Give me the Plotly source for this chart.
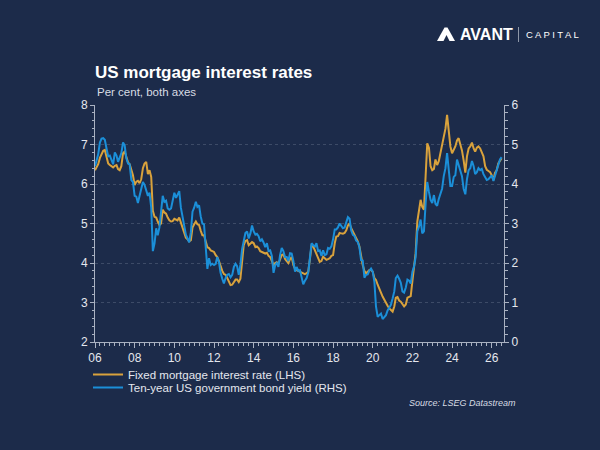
import pandas as pd
import plotly.graph_objects as go

# ---------------- data (monthly, Jan 2006 - Jul 2026) ----------------
start_month = "2006-01-01"

mortgage_rate = [
    # 2006
    6.35, 6.42, 6.50, 6.66, 6.76, 6.84, 6.86, 6.66, 6.52, 6.48, 6.44, 6.42,
    # 2007
    6.46, 6.48, 6.38, 6.35, 6.45, 6.78, 6.82, 6.70, 6.55, 6.50, 6.35, 6.22,
    # 2008
    5.97, 6.06, 6.08, 6.02, 6.12, 6.40, 6.52, 6.56, 6.25, 6.35, 6.18, 5.32,
    # 2009
    5.17, 5.15, 5.05, 4.96, 5.00, 5.35, 5.28, 5.25, 5.15, 5.08, 5.05, 5.06,
    # 2010
    5.12, 5.10, 5.08, 5.15, 5.02, 4.92, 4.76, 4.64, 4.60, 4.55, 4.58, 4.90,
    # 2011
    4.98, 5.05, 4.98, 4.96, 4.82, 4.70, 4.70, 4.52, 4.40, 4.38, 4.32, 4.30,
    # 2012
    4.28, 4.20, 4.15, 4.05, 3.92, 3.80, 3.72, 3.70, 3.62, 3.52, 3.44, 3.45,
    # 2013
    3.52, 3.58, 3.58, 3.52, 3.60, 4.15, 4.45, 4.56, 4.58, 4.45, 4.48, 4.53,
    # 2014
    4.50, 4.40, 4.42, 4.38, 4.30, 4.28, 4.26, 4.24, 4.26, 4.18, 4.15, 4.05,
    # 2015
    3.95, 4.00, 4.02, 3.98, 4.10, 4.20, 4.22, 4.10, 4.05, 4.00, 4.10, 4.15,
    # 2016
    3.95, 3.85, 3.82, 3.80, 3.80, 3.78, 3.74, 3.72, 3.74, 3.78, 4.10, 4.44,
    # 2017
    4.42, 4.32, 4.22, 4.12, 4.03, 4.05, 4.16, 4.12, 4.08, 4.10, 4.12, 4.18,
    # 2018
    4.20, 4.50, 4.67, 4.68, 4.76, 4.75, 4.74, 4.76, 4.83, 4.95, 5.00, 4.88,
    # 2019
    4.80, 4.72, 4.66, 4.55, 4.42, 4.15, 3.95, 3.80, 3.74, 3.78, 3.82, 3.82,
    # 2020
    3.78, 3.62, 3.57, 3.45, 3.33, 3.25, 3.15, 3.06, 3.00, 2.92, 2.85, 2.80,
    # 2021
    2.77, 2.90, 3.12, 3.14, 3.05, 3.02, 2.95, 2.90, 2.95, 3.12, 3.14, 3.16,
    # 2022
    3.55, 3.85, 4.25, 5.05, 5.28, 5.60, 5.42, 5.35, 6.20, 7.03, 6.92, 6.45,
    # 2023
    6.35, 6.38, 6.62, 6.48, 6.58, 6.78, 7.05, 7.25, 7.40, 7.75, 7.40, 6.95,
    # 2024
    6.78, 6.88, 6.95, 7.10, 7.16, 7.00, 6.85, 6.60, 6.29, 6.70, 6.90, 6.95,
    # 2025
    7.05, 6.90, 6.82, 6.92, 6.95, 6.90, 6.80, 6.70, 6.45, 6.36, 6.33, 6.30,
    # 2026
    6.22, 6.10, 6.28, 6.35, 6.52, 6.60, 6.65,
]

bond_yield = [
    # 2006
    4.45, 4.58, 4.75, 5.05, 5.15, 5.16, 5.12, 4.90, 4.70, 4.72, 4.58, 4.50,
    # 2007
    4.80, 4.72, 4.56, 4.68, 4.78, 5.05, 4.98, 4.65, 4.52, 4.50, 4.10, 4.05,
    # 2008
    3.70, 3.68, 3.52, 3.70, 3.90, 4.05, 3.98, 3.85, 3.70, 3.78, 3.40, 2.30,
    # 2009
    2.50, 2.88, 2.70, 2.90, 3.30, 3.70, 3.55, 3.58, 3.38, 3.35, 3.38, 3.60,
    # 2010
    3.78, 3.65, 3.75, 3.82, 3.40, 3.18, 3.00, 2.72, 2.62, 2.52, 2.78, 3.30,
    # 2011
    3.40, 3.55, 3.42, 3.46, 3.18, 3.00, 2.98, 2.28, 1.85, 2.12, 1.95, 1.98,
    # 2012
    1.95, 1.98, 2.15, 2.02, 1.75, 1.60, 1.48, 1.62, 1.70, 1.72, 1.64, 1.70,
    # 2013
    1.90, 1.98, 1.92, 1.70, 1.95, 2.35, 2.60, 2.76, 2.80, 2.62, 2.75, 2.95,
    # 2014
    2.80, 2.72, 2.74, 2.68, 2.55, 2.60, 2.52, 2.40, 2.50, 2.30, 2.32, 2.18,
    # 2015
    1.75, 1.95, 2.00, 1.90, 2.20, 2.38, 2.30, 2.15, 2.15, 2.05, 2.25, 2.24,
    # 2016
    2.05, 1.78, 1.90, 1.80, 1.82, 1.62, 1.46, 1.55, 1.62, 1.76, 2.15, 2.50,
    # 2017
    2.45, 2.42, 2.50, 2.30, 2.32, 2.18, 2.32, 2.20, 2.22, 2.38, 2.36, 2.42,
    # 2018
    2.60, 2.85, 2.85, 2.90, 3.00, 2.92, 2.88, 2.90, 3.02, 3.16, 3.12, 2.82,
    # 2019
    2.71, 2.68, 2.57, 2.53, 2.40, 2.07, 2.06, 1.63, 1.70, 1.71, 1.81, 1.86,
    # 2020
    1.78, 1.52, 0.90, 0.64, 0.68, 0.72, 0.58, 0.62, 0.68, 0.80, 0.88, 0.94,
    # 2021
    1.10, 1.28, 1.62, 1.68, 1.60, 1.50, 1.28, 1.25, 1.38, 1.58, 1.55, 1.48,
    # 2022
    1.78, 1.92, 2.15, 2.80, 2.92, 3.10, 2.75, 2.80, 3.50, 4.05, 3.80, 3.60,
    # 2023
    3.52, 3.72, 3.50, 3.45, 3.62, 3.75, 3.88, 4.20, 4.40, 4.78, 4.40, 3.95,
    # 2024
    3.95, 4.18, 4.22, 4.62, 4.48, 4.30, 4.20, 3.88, 3.74, 4.12, 4.35, 4.40,
    # 2025
    4.58, 4.45, 4.25, 4.30, 4.40, 4.35, 4.38, 4.25, 4.15, 4.10, 4.12, 4.16,
    # 2026
    4.22, 4.08, 4.20, 4.30, 4.48, 4.62, 4.68,
]

series_names = [
    "Fixed mortgage interest rate (LHS)",
    "Ten-year US government bond yield (RHS)",
]
left_range = [2, 8]
right_range = [0, 6]
x_range = ["2006-01-01", "2026-08-14"]

title_text = "US mortgage interest rates"
subtitle_text = "Per cent, both axes"
source_text = "Source: LSEG Datastream"

# ---------------- styling ----------------
BG = "#1c2b4a"
GOLD = "#d9a23c"
BLUE = "#1b8fd8"
AXIS = "#aab2c2"
TXT = "#e4e7ee"
FONT = "Liberation Sans, Arial, sans-serif"

W, H = 600, 450
ML, MR, MT, MB = 95, 96, 105, 108
PW, PH = W - ML - MR, H - MT - MB


def px(x):
    return (x - ML) / PW


def py(y):
    return (H - MB - y) / PH


dates = pd.date_range(start_month, periods=len(mortgage_rate), freq="MS")

fig = go.Figure()
fig.add_trace(go.Scatter(x=dates, y=mortgage_rate, name=series_names[0],
                         mode="lines", line=dict(color=GOLD, width=2),
                         yaxis="y", legend="legend"))
fig.add_trace(go.Scatter(x=dates, y=bond_yield, name=series_names[1],
                         mode="lines", line=dict(color=BLUE, width=2),
                         yaxis="y2", legend="legend2"))

axis_common = dict(showline=True, linecolor=AXIS, linewidth=1,
                   ticks="outside", tickcolor=AXIS, tickwidth=1,
                   tickfont=dict(family=FONT, size=12, color=TXT),
                   zeroline=False)

fig.update_layout(
    width=W, height=H,
    margin=dict(l=ML, r=MR, t=MT, b=MB),
    paper_bgcolor=BG, plot_bgcolor=BG,
    font=dict(family=FONT, color=TXT),
    title=dict(text="<b>" + title_text + "</b>", xref="container", yref="container",
               x=ML / W, xanchor="left", y=1 - 72 / H, yanchor="middle",
               font=dict(family=FONT, size=17, color="#ffffff")),
    xaxis=dict(type="date", range=x_range, tick0="2006-01-01", dtick="M24",
               tickformat="%y", ticklen=5, showgrid=False,
               minor=dict(dtick="M3", ticks="outside", ticklen=3,
                          tickcolor=AXIS, showgrid=False),
               **axis_common),
    yaxis=dict(range=left_range, dtick=1, ticklen=4,
               showgrid=True, gridcolor="rgba(160,170,190,0.26)",
               griddash="dot", gridwidth=1,
               minor=dict(dtick=0.2, ticks="outside", ticklen=2.5,
                          tickcolor=AXIS, showgrid=False),
               **axis_common),
    yaxis2=dict(range=right_range, dtick=1, ticklen=4, overlaying="y",
                side="right", showgrid=False,
                minor=dict(dtick=0.2, ticks="outside", ticklen=2.5,
                           tickcolor=AXIS, showgrid=False),
                **axis_common),
    legend=dict(x=px(88), y=py(374.5), xanchor="left", yanchor="middle",
                bgcolor="rgba(0,0,0,0)", borderwidth=0,
                font=dict(family=FONT, size=11.5, color=TXT)),
    legend2=dict(x=px(88), y=py(387.5), xanchor="left", yanchor="middle",
                 bgcolor="rgba(0,0,0,0)", borderwidth=0,
                 font=dict(family=FONT, size=11.5, color=TXT)),
    showlegend=True,
)

# subtitle, source, logo
fig.add_annotation(text=subtitle_text, xref="paper", yref="paper",
                   x=0, y=py(92), xanchor="left", yanchor="middle",
                   showarrow=False, font=dict(family=FONT, size=11.5, color="#d8dce4"))
fig.add_annotation(text=source_text, xref="paper", yref="paper",
                   x=px(518), y=py(403), xanchor="right", yanchor="middle",
                   showarrow=False,
                   font=dict(family=FONT, size=9, color="#d8dce4", style="italic"))
fig.add_annotation(text="<b>AVANT</b>", xref="paper", yref="paper",
                   x=px(458), y=py(34.5), xanchor="left", yanchor="middle",
                   showarrow=False, font=dict(family=FONT, size=16, color="#ffffff"))
fig.add_annotation(text="C A P I T A L", xref="paper", yref="paper",
                   x=px(524), y=py(34.5), xanchor="left", yanchor="middle",
                   showarrow=False, font=dict(family=FONT, size=9.5, color="#ffffff"))
fig.add_shape(type="line", xref="paper", yref="paper",
              x0=px(518.5), x1=px(518.5), y0=py(27), y1=py(42),
              line=dict(color="#8e97a8", width=1))
# logo mark
mark = "M{},{} L{},{} L{},{} L{},{} Z".format(px(437), py(41), px(444.5), py(27.5),
                                               px(447.5), py(27.5), px(455), py(41))
fig.add_shape(type="path", xref="paper", yref="paper", path=mark,
              fillcolor="#ffffff", line=dict(width=0))
notch = "M{},{} L{},{} L{},{} Z".format(px(443.5), py(41), px(446.5), py(35),
                                         px(449.5), py(41))
fig.add_shape(type="path", xref="paper", yref="paper", path=notch,
              fillcolor=BG, line=dict(width=0))

fig.write_html("out.html",
               config={"displayModeBar": False, "staticPlot": True},
               post_script="document.body.style.margin='0';"
                           "document.body.style.background='" + BG + "';")
